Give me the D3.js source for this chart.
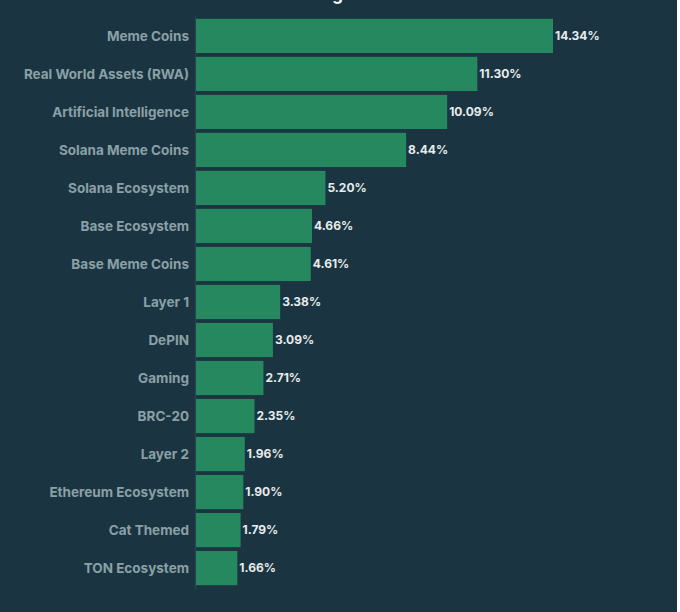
<html>
<head>
<title>Category gains</title>
<script src="https://d3js.org/d3.v7.min.js" charset="utf-8"></script>
<style type="text/css">
body{
	margin:0;
	background:#fff;
}
.bg{
	fill:#1a3541;
}
.bar{
	fill:#26885e;
}
.cat-label{
	fill:#8ba0a6;
	font-family:Inter, "Noto Sans", sans-serif;
	font-weight:700;
	font-size:13.5px;
}
.val-label{
	fill:#e8ecec;
	font-family:Inter, "Noto Sans", sans-serif;
	font-weight:700;
	font-size:12px;
}
.title{
	fill:#fff;
	font-family:Inter, "Noto Sans", sans-serif;
	font-weight:700;
	font-size:17px;
}
</style>
</head>
<body>
<script>
var categories = ['Meme Coins','Real World Assets (RWA)','Artificial Intelligence','Solana Meme Coins',
	'Solana Ecosystem','Base Ecosystem','Base Meme Coins','Layer 1','DePIN','Gaming','BRC-20',
	'Layer 2','Ethereum Ecosystem','Cat Themed','TON Ecosystem'];
var shares = [14.34, 11.30, 10.09, 8.44, 5.20, 4.66, 4.61, 3.38, 3.09, 2.71, 2.35, 1.96, 1.90, 1.79, 1.66];

var data = categories.map(function(c, i){ return {cat:c, v:shares[i]}; });

var W = 680, H = 612;
var svg = d3.select('body').append('svg').attr('width', W).attr('height', H);

svg.append('rect').attr('class','bg').attr('x',0).attr('y',0).attr('width',677).attr('height',H);

// title sits above the visible area, only its descender peeks in
svg.append('text').attr('class','title')
	.attr('x', 340).attr('y', 0)
	.attr('text-anchor','middle')
	.text('Trending Sectors');

var x = d3.scaleLinear().domain([0, d3.max(shares)]).range([196, 553]);
var y = d3.scaleBand().domain(categories).range([15, 589]).paddingInner(0.1).paddingOuter(0.1);

var yAxis = svg.append('g')
	.attr('transform','translate(195,0)')
	.call(d3.axisLeft(y).tickSize(0).tickPadding(6));
yAxis.select('.domain').attr('stroke','#2b4651').attr('stroke-width',1);
yAxis.selectAll('text').attr('class','cat-label').attr('fill',null).attr('dy','0.4em');

svg.append('g').selectAll('rect')
	.data(data)
	.enter()
	.append('rect')
		.attr('class','bar')
		.attr('x', x(0))
		.attr('y', function(d){ return y(d.cat); })
		.attr('width', function(d){ return x(d.v) - x(0); })
		.attr('height', y.bandwidth());

svg.append('g').selectAll('text')
	.data(data)
	.enter()
	.append('text')
		.attr('class','val-label')
		.attr('x', function(d){ return x(d.v) + 2; })
		.attr('y', function(d){ return y(d.cat) + y.bandwidth()/2; })
		.attr('dy','0.35em')
		.text(function(d){ return d.v.toFixed(2) + '%'; });
</script>
</body>
</html>
